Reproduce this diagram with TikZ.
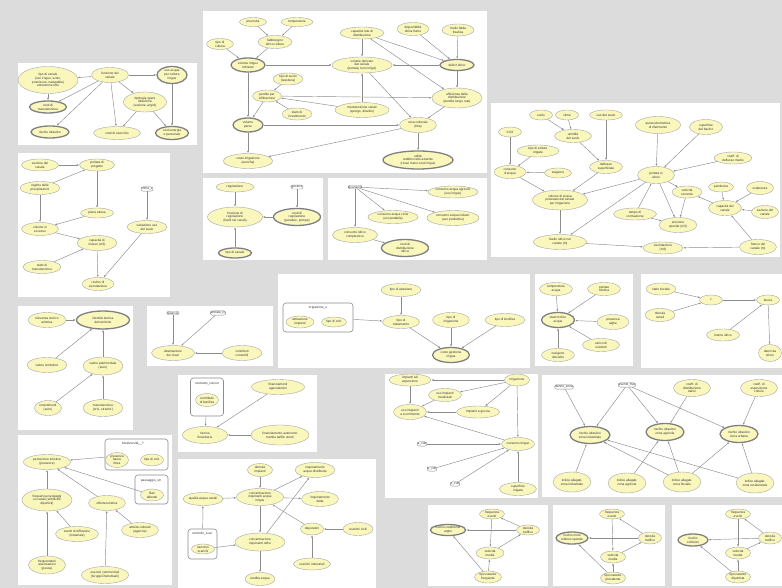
\documentclass[tikz,border=0pt]{standalone}
\usepackage{fontspec}
\setmainfont{Liberation Sans}
\usepackage{tikz}
\usetikzlibrary{shapes.geometric, arrows.meta}
\definecolor{bnyellow}{RGB}{250,247,188}
\definecolor{bggrey}{RGB}{220,220,220}
\tikzset{
  sz/.style 2 args={minimum width=#1pt, minimum height=#2pt},
  var/.style={ellipse, draw=black!35, line width=0.4pt, fill=bnyellow, inner sep=0pt, align=center, text=black!80},
  util/.style={var, draw=black!50, line width=1.3pt},
  dec/.style={rectangle, rounded corners=2pt, draw=black!45, line width=0.4pt, fill=white, inner sep=0.6pt, text=black!80},
  grp/.style={rectangle, rounded corners=3pt, draw=black!45, line width=0.6pt, fill=white},
  lbl/.style={inner sep=0pt, text=black!80},
  panel/.style={fill=white},
  edge/.style={-{Latex[length=2.4pt,width=1.8pt]}, draw=black!45, line width=0.45pt}
}

\begin{document}
\begin{tikzpicture}[x=1pt, y=-1pt, font=\fontsize{3.2}{3.8}\selectfont]
    % Draw background
    \fill[bggrey] (0,0) rectangle (782,588);
    \useasboundingbox (0,0) rectangle (782,588);

    % Draw panels
    \fill[panel] (18,63) rectangle (197,145);
    \fill[panel] (203,11) rectangle (487,173);
    \fill[panel] (18,153) rectangle (170,297);
    \fill[panel] (203,178) rectangle (323,260);
    \fill[panel] (328,178) rectangle (487,260);
    \fill[panel] (491,103) rectangle (780,257);
    \fill[panel] (18,306) rectangle (133,430);
    \fill[panel] (147,306) rectangle (273,366);
    \fill[panel] (278,274) rectangle (530,368);
    \fill[panel] (535,274) rectangle (633,366);
    \fill[panel] (641,274) rectangle (782,368);
    \fill[panel] (178,375) rectangle (317,452);
    \fill[panel] (385,374) rectangle (538,498);
    \fill[panel] (542,375) rectangle (782,497);
    \fill[panel] (18,435) rectangle (172,585);
    \fill[panel] (178,459) rectangle (376,588);
    \fill[panel] (428,505) rectangle (548,586);
    \fill[panel] (553,505) rectangle (665,586);
    \fill[panel] (672,505) rectangle (782,586);

    % canale
    \node[var, sz={60}{27}] (A1) at (48,80) {tipo di canale\\(uso irriguo, scolo,\\promiscuo, navigabile)\\estensione rete};
    \node[var, sz={37}{15}] (A2) at (110,75) {funzione del\\canale};
    \node[util, sz={30}{17}] (A3) at (172,75) {uso acqua\\per colture\\irrigue};
    \node[util, sz={37}{12}] (A4) at (48,107) {costi di\\manutenzione};
    \node[var, sz={43}{20}] (A5) at (145,102) {tipologia opere\\idrauliche\\(sezione, argini)};
    \node[util, sz={38}{12}] (A6) at (50,132) {rischio idraulico};
    \node[var, sz={47}{13}] (A7) at (117,133) {costi di esercizio};
    \node[util, sz={33}{13}] (A8) at (172,133) {costi energia\\e personale};
    \draw[edge] (A2) -- (A1);
    \draw[edge] (A2) -- (A3);
    \draw[edge] (A1) -- (A4);
    \draw[edge] (A2) -- (A4);
    \draw[edge] (A2) -- (A6);
    \draw[edge] (A2) -- (A7);
    \draw[edge] (A2) -- (A5);
    \draw[edge] (A5) -- (A7);
    \draw[edge] (A5) -- (A8);
    \draw[edge] (A3) -- (A8);

    % irrigazione
    \node[var, sz={27}{9}] (B1) at (253,22) {piovosità};
    \node[var, sz={32}{9}] (B2) at (297,22) {temperature};
    \node[var, sz={27}{11}] (B3) at (220,44) {tipo di\\coltura};
    \node[var, sz={34}{13}] (B4) at (275,42) {fabbisogno\\idrico colture};
    \node[util, sz={34}{14}] (B5) at (248,65) {volume irriguo\\richiesto};
    \node[var, sz={44}{12}] (B6) at (362,33) {capacità rete di\\distribuzione};
    \node[var, sz={32}{13}] (B7) at (413,29) {disponibilità\\idrica fiume};
    \node[var, sz={32}{12}] (B8) at (458,30) {livello falda\\freatica};
    \node[var, sz={60}{16}] (B9) at (362,65) {volume derivato\\dal canale\\(portata, turni irrigui)};
    \node[util, sz={34}{11}] (B10) at (457,65) {deficit idrico};
    \node[var, sz={30}{12}] (B11) at (288,79) {tipo di suolo\\(tessitura)};
    \node[var, sz={29}{12}] (B12) at (267,96) {perdite per\\infiltrazione};
    \node[var, sz={30}{12}] (B13) at (297,114) {stato di\\rivestimento};
    \node[var, sz={54}{15}] (B14) at (362,110) {manutenzione canali\\(spurgo, diserbo)};
    \node[var, sz={50}{20}] (B15) at (457,98) {efficienza della\\distribuzione\\(perdite lungo rete)};
    \node[util, sz={30}{14}] (B16) at (248,125) {volume\\perso};
    \node[var, sz={37}{15}] (B17) at (418,125) {resa colturale\\(t/ha)};
    \node[var, sz={49}{15}] (B18) at (248,161) {costo irrigazione\\(euro/ha)};
    \node[util, sz={70}{18}] (B19) at (418,160) {utilità\\reddito netto aziende\\(ricavi meno costi irrigui)};
    \draw[edge] (B1) -- (B4);
    \draw[edge] (B2) -- (B4);
    \draw[edge] (B3) -- (B5);
    \draw[edge] (B4) -- (B5);
    \draw[edge] (B5) -- (B9);
    \draw[edge] (B6) -- (B9);
    \draw[edge] (B6) -- (B10);
    \draw[edge] (B6) -- (B15);
    \draw[edge] (B7) -- (B10);
    \draw[edge] (B8) -- (B10);
    \draw[edge] (B10) -- (B9);
    \draw[edge] (B10) -- (B15);
    \draw[edge] (B11) -- (B12);
    \draw[edge] (B13) -- (B12);
    \draw[edge] (B14) -- (B12);
    \draw[edge] (B14) -- (B9);
    \draw[edge] (B12) -- (B15);
    \draw[edge] (B12) -- (B16);
    \draw[edge] (B5) -- (B16);
    \draw[edge] (B16) -- (B17);
    \draw[edge] (B9) -- (B17);
    \draw[edge] (B15) -- (B17);
    \draw[edge] (B17) -- (B18);
    \draw[edge] (B16) -- (B18);
    \draw[edge] (B17) -- (B19);

    % piena
    \node[var, sz={37}{12}] (C1) at (40,165) {sezione del\\canale};
    \node[var, sz={35}{12}] (C2) at (97,165) {portata di\\progetto};
    \node[var, sz={40}{13}] (C3) at (40,188) {regime delle\\precipitazioni};
    \node[dec] (C4) at (147,189) {clima\_c};
    \node[var, sz={33}{10}] (C5) at (97,213) {piena attesa};
    \node[var, sz={37}{13}] (C6) at (40,229) {volume in\\eccesso};
    \node[var, sz={40}{13}] (C7) at (147,227) {variazione uso\\del suolo};
    \node[var, sz={40}{15}] (C8) at (97,243) {capacità di\\invaso (m3)};
    \node[var, sz={38}{13}] (C9) at (42,267) {stato di\\manutenzione};
    \node[var, sz={32}{13}] (C10) at (98,284) {rischio di\\esondazione};
    \draw[edge] (C1) -- (C2);
    \draw[edge] (C3) -- (C2);
    \draw[edge] (C3) -- (C6);
    \draw[edge] (C2) -- (C5);
    \draw[edge] (C5) -- (C6);
    \draw[edge] (C6) -- (C8);
    \draw[edge] (C9) -- (C8);
    \draw[edge] (C8) -- (C10);
    \draw[edge] (C4) -- (C7);
    \draw[edge] (C7) -- (C10);

    % regolazione
    \node[var, sz={38}{10}] (D1) at (235,187) {regolazione};
    \node[dec] (D2) at (297,187) {gestore};
    \node[var, sz={55}{20}] (D3) at (235,217) {funzione di\\regolazione\\(livelli nei canali)};
    \node[util, sz={47}{17}] (D4) at (297,217) {costi di\\regolazione\\(paratoie, pompe)};
    \node[util, sz={33}{10}] (D5) at (235,253) {tipo di canale};
    \draw[edge] (D1) -- (D3);
    \draw[edge] (D2) -- (D4);
    \draw[edge] (D4) -- (D3);
    \draw[edge] (D5) -- (D3);

    % consumi
    \node[dec] (E1) at (355,187) {scenario};
    \node[var, sz={50}{12}] (E2) at (453,192) {consumo acqua agricolo\\(uso irriguo)};
    \node[var, sz={50}{13}] (E3) at (393,217) {consumo acqua civile\\(uso potabile)};
    \node[var, sz={52}{15}] (E4) at (453,218) {consumo acqua industr.\\(uso produttivo)};
    \node[var, sz={45}{15}] (E5) at (355,235) {consumo idrico\\complessivo};
    \node[util, sz={47}{17}] (E6) at (405,248) {costi di\\distribuzione\\idrica};
    \draw[edge] (E1) -- (E2);
    \draw[edge] (E1) -- (E3);
    \draw[edge] (E1) -- (E4);
    \draw[edge] (E1) -- (E5);
    \draw[edge] (E5) -- (E6);

    % portata
    \node[var, sz={23}{10}] (F1) at (541,115) {suolo};
    \node[var, sz={23}{10}] (F2) at (567,115) {clima};
    \node[var, sz={33}{10}] (F3) at (606,115) {uso del suolo};
    \node[var, sz={23}{10}] (F4) at (510,132) {CO2};
    \node[var, sz={37}{13}] (F5) at (573,136) {umidità\\del suolo};
    \node[var, sz={42}{12}] (F6) at (538,151) {tipo di colture\\irrigate};
    \node[var, sz={45}{17}] (F7) at (658,125) {quota idrometrica\\di riferimento};
    \node[var, sz={33}{15}] (F8) at (706,127) {superficie\\del bacino};
    \node[var, sz={32}{13}] (F9) at (510,172) {consumo\\d'acqua};
    \node[var, sz={27}{10}] (F10) at (558,173) {stagione};
    \node[var, sz={33}{13}] (F11) at (606,167) {deflusso\\superficiale};
    \node[var, sz={38}{12}] (F12) at (733,158) {coeff. di\\deflusso medio};
    \node[var, sz={37}{17}] (F13) at (656,175) {portata in\\alveo};
    \node[var, sz={55}{20}] (F14) at (560,200) {volume di acqua\\prelevato dal canale\\per irrigazione};
    \node[var, sz={30}{12}] (F15) at (687,192) {velocità\\corrente};
    \node[var, sz={25}{10}] (F16) at (721,187) {pendenza};
    \node[var, sz={27}{13}] (F17) at (760,188) {scabrezza};
    \node[var, sz={33}{15}] (F18) at (725,208) {capacità del\\canale};
    \node[var, sz={27}{13}] (F19) at (765,212) {sezione del\\canale};
    \node[var, sz={43}{12}] (F20) at (635,214) {tempo di\\corrivazione};
    \node[var, sz={38}{15}] (F21) at (678,225) {erosione\\sponde (m3)};
    \node[var, sz={53}{15}] (F22) at (560,242) {livello idrico nel\\canale (m)};
    \node[var, sz={40}{12}] (F23) at (663,248) {esondazione\\(m3)};
    \node[var, sz={37}{15}] (F24) at (758,247) {franco del\\canale (m)};
    \draw[edge] (F1) -- (F5);
    \draw[edge] (F2) -- (F5);
    \draw[edge] (F3) -- (F11);
    \draw[edge] (F5) -- (F11);
    \draw[edge] (F4) -- (F9);
    \draw[edge] (F6) -- (F9);
    \draw[edge] (F10) -- (F9);
    \draw[edge] (F9) -- (F14);
    \draw[edge] (F11) -- (F14);
    \draw[edge] (F7) -- (F13);
    \draw[edge] (F8) -- (F13);
    \draw[edge] (F12) -- (F13);
    \draw[edge] (F13) -- (F14);
    \draw[edge] (F13) -- (F15);
    \draw[edge] (F13) -- (F21);
    \draw[edge] (F13) -- (F22);
    \draw[edge] (F20) -- (F13);
    \draw[edge] (F20) -- (F21);
    \draw[edge] (F15) -- (F21);
    \draw[edge] (F16) -- (F18);
    \draw[edge] (F17) -- (F18);
    \draw[edge] (F19) -- (F18);
    \draw[edge] (F18) -- (F15);
    \draw[edge] (F14) -- (F22);
    \draw[edge] (F22) -- (F23);
    \draw[edge] (F24) -- (F23);
    \draw[edge] (F24) -- (F18);

    % patrimonio
    \node[var, sz={38}{15}] (G1) at (47,320) {rilevanza storico\\artistica};
    \node[util, sz={53}{18}] (G2) at (103,320) {identità storica\\del territorio};
    \node[var, sz={40}{15}] (G3) at (47,365) {valore simbolico};
    \node[var, sz={40}{18}] (G4) at (103,366) {valore patrimoniale\\(euro)};
    \node[var, sz={27}{15}] (G5) at (48,408) {investimenti\\(euro)};
    \node[var, sz={40}{17}] (G6) at (103,408) {manutenzione\\(ord., straord.)};
    \draw[edge] (G1) -- (G2);
    \draw[edge] (G3) -- (G2);
    \draw[edge] (G4) -- (G2);
    \draw[edge] (G5) -- (G4);
    \draw[edge] (G6) -- (G4);

    % ricavi
    \node[dec] (H1) at (173,313) {bilancio};
    \node[dec] (H2) at (218,313) {entrate\_in};
    \node[var, sz={43}{15}] (H3) at (173,353) {destinazione\\dei ricavi};
    \node[var, sz={40}{15}] (H4) at (242,353) {contributi\\consortili};
    \draw[edge] (H1) -- (H3);
    \draw[edge] (H2) -- (H3);
    \draw[edge] (H4) -- (H3);

    % trattamento
    \node[var, sz={40}{13}] (I0) at (401,290) {tipo di adesione};
    \node[grp, sz={70}{29}] (IG) at (318,317.5) {};
    \node[lbl] (IGt) at (318,308) {irrigazione\_s};
    \node[var, sz={28}{12}] (IG1) at (300,322) {attivazione\\impianti};
    \node[var, sz={25}{10}] (IG2) at (334,322) {tipo di colt.};
    \node[var, sz={37}{13}] (I1) at (401,322) {tipo di\\trattamento};
    \node[var, sz={37}{15}] (I2) at (451,320) {tipo di\\irrigazione};
    \node[var, sz={40}{13}] (I3) at (505,320) {tipo di bonifica};
    \node[util, sz={37}{15}] (I4) at (451,355) {costo gestione\\irrigua};
    \draw[edge] (I0) -- (I1);
    \draw[edge] (IG) -- (I1);
    \draw[edge] (I1) -- (I4);
    \draw[edge] (I2) -- (I4);
    \draw[edge] (I3) -- (I4);

    % qualita
    \node[var, sz={33}{13}] (J0a) at (556,289) {temperatura\\acqua};
    \node[var, sz={33}{13}] (J0b) at (604,289) {portata\\minima};
    \node[util, sz={33}{15}] (J1) at (558,320) {stato trofico\\acque};
    \node[var, sz={32}{15}] (J2) at (613,322) {presenza\\alghe};
    \node[var, sz={37}{13}] (J3) at (601,345) {carico di\\nutrienti};
    \node[var, sz={33}{13}] (J4) at (558,355) {ossigeno\\disciolto};
    \draw[edge] (J0a) -- (J1);
    \draw[edge] (J0b) -- (J1);
    \draw[edge] (J2) -- (J1);
    \draw[edge] (J3) -- (J1);
    \draw[edge] (J4) -- (J1);

    % fascia
    \node[var, sz={30}{12}] (K0) at (661,289) {stato iniziale};
    \node[var, sz={23}{10}] (K1) at (711,300) {c};
    \node[var, sz={23}{10}] (K2) at (768,300) {fascia};
    \node[var, sz={30}{13}] (K3) at (660,315) {densità\\canali};
    \node[var, sz={33}{12}] (K4) at (723,335) {tirante idrico};
    \node[var, sz={23}{17}] (K5) at (770,353) {danni da\\sfioro};
    \draw[edge] (K0) -- (K1);
    \draw[edge] (K3) -- (K1);
    \draw[edge] (K1) -- (K2);
    \draw[edge] (K4) -- (K2);
    \draw[edge] (K2) -- (K5);

    % finanziamento
    \node[grp, sz={33}{38}] (LG) at (207,397) {};
    \node[lbl] (LGt) at (207,384) {contratto\_consor};
    \node[var, sz={23}{13}] (LG1) at (207,400) {contributo\\di bonifica};
    \node[var, sz={53}{15}] (L1) at (278,387) {finanziamenti\\agevolazioni};
    \node[var, sz={45}{17}] (L2) at (205,435) {risorse\\finanziarie};
    \node[var, sz={58}{20}] (L3) at (280,435) {finanziamento autonomo\\tramite tariffe utenti};
    \draw[edge] (LG) -- (L2);
    \draw[edge] (L1) -- (L2);
    \draw[edge] (L3) -- (L2);

    % impianti
    \node[var, sz={42}{12}] (M1) at (410,380) {impianti ad\\aspersione};
    \node[var, sz={25}{12}] (M2) at (517,380) {irrigazione};
    \node[var, sz={33}{13}] (M3) at (445,395) {uso impianti\\localizzati};
    \node[var, sz={33}{15}] (M4) at (410,412) {uso impianti\\a scorrimento};
    \node[var, sz={43}{12}] (M5) at (478,412) {impianti a goccia};
    \node[dec] (R1) at (422,444) {a\_cult};
    \node[var, sz={33}{13}] (M6) at (518,444) {consumo irriguo};
    \node[dec] (R2) at (432,469) {b\_cult};
    \node[dec] (R3) at (455,484) {c\_cult};
    \node[var, sz={37}{13}] (M7) at (518,489) {superficie\\irrigata};
    \draw[edge] (M2) -- (M1);
    \draw[edge] (M2) -- (M3);
    \draw[edge] (M1) -- (M4);
    \draw[edge] (M3) -- (M4);
    \draw[edge] (M5) -- (M4);
    \draw[edge] (M2) -- (M5);
    \draw[edge] (M2) -- (M6);
    \draw[edge] (M6) -- (M4);
    \draw[edge] (R1) -- (M6);
    \draw[edge] (R2) -- (M6);
    \draw[edge] (R3) -- (M6);
    \draw[edge] (M7) -- (M6);

    % rischio
    \node[dec] (N1) at (564,387) {danno\_zona};
    \node[dec] (N2) at (627,385) {evento\_fluv};
    \node[var, sz={37}{17}] (N3) at (692,388) {coeff. di\\distribuzione\\danni};
    \node[var, sz={37}{17}] (N4) at (759,388) {coeff. di\\esposizione\\colture};
    \node[util, sz={40}{17}] (N5) at (590,435) {rischio idraulico\\zona industriale};
    \node[util, sz={38}{17}] (N6) at (665,432) {rischio idraulico\\zona agricola};
    \node[util, sz={38}{17}] (N7) at (739,434) {rischio idraulico\\zona urbana};
    \node[var, sz={38}{20}] (N8) at (572,482) {indice allagab.\\zona industriale};
    \node[var, sz={38}{20}] (N9) at (627,483) {indice allagab.\\zona agricola};
    \node[var, sz={38}{20}] (N10) at (682,482) {indice allagab.\\zona fluviale};
    \node[var, sz={38}{20}] (N11) at (755,483) {indice allagab.\\zona residenziale};
    \draw[edge] (N1) -- (N5);
    \draw[edge] (N2) -- (N5);
    \draw[edge] (N2) -- (N6);
    \draw[edge] (N2) -- (N7);
    \draw[edge] (N3) -- (N6);
    \draw[edge] (N4) -- (N7);
    \draw[edge] (N8) -- (N5);
    \draw[edge] (N9) -- (N6);
    \draw[edge] (N10) -- (N5);
    \draw[edge] (N10) -- (N6);
    \draw[edge] (N10) -- (N7);
    \draw[edge] (N11) -- (N5);
    \draw[edge] (N11) -- (N7);

    % turismo
    \node[var, sz={47}{15}] (O1) at (47,462) {percezione turistica\\(presenze)};
    \node[grp, sz={63}{31}] (OG1) at (136.5,454.5) {};
    \node[lbl] (OG1t) at (133,444) {biodiversità\_\_?};
    \node[var, sz={23}{15}] (OG1a) at (117,460) {presenza\\fauna\\ittica};
    \node[var, sz={23}{12}] (OG1b) at (152,460) {tipo di colt.};
    \node[grp, sz={33}{29}] (OG2) at (151.5,489.5) {};
    \node[lbl] (OG2t) at (151,481) {paesaggio\_str};
    \node[var, sz={23}{12}] (OG2a) at (152,495) {filari\\alberati};
    \node[var, sz={50}{22}] (O2) at (47,500) {frequenza navigaggi\\su canali (entità dei\\diportisti)};
    \node[var, sz={37}{15}] (O3) at (107,503) {offerta turistica};
    \node[var, sz={43}{15}] (O4) at (77,534) {eventi di diffusione\\(materiale)};
    \node[var, sz={37}{15}] (O5) at (140,530) {attività culturali\\(agenzie)};
    \node[var, sz={37}{18}] (O6) at (47,565) {frequentatori\\associazioni\\(pesca)};
    \node[var, sz={47}{17}] (O7) at (105,575) {esercizi commerciali\\(Gruppi Distrettuali)};
    \draw[edge] (OG1) -- (O1);
    \draw[edge] (OG2a) -- (O1);
    \draw[edge] (O2) -- (O1);
    \draw[edge] (O3) -- (O1);
    \draw[edge] (O6) -- (O2);
    \draw[edge] (O4) -- (O2);
    \draw[edge] (O7) -- (O3);
    \draw[edge] (O5) -- (O3);

    % inquinamento
    \node[var, sz={25}{13}] (P1) at (260,470) {densità\\impianti};
    \node[var, sz={40}{15}] (P2) at (315,470) {inquinamento\\acque distribuite};
    \node[var, sz={37}{13}] (P3) at (203,499) {qualità acqua canali};
    \node[var, sz={47}{17}] (P4) at (260,497) {concentrazione\\inquinanti acque\\irrigue};
    \node[var, sz={37}{15}] (P5) at (320,499) {inquinamento\\falda};
    \node[grp, sz={29}{30}] (PG) at (202.5,544) {};
    \node[lbl] (PGt) at (202,534) {controllo\_scar};
    \node[var, sz={23}{10}] (PG1) at (203,549) {sanzioni\\scarichi};
    \node[var, sz={50}{18}] (P6) at (260,542) {concentrazione\\inquinanti reflui};
    \node[var, sz={23}{12}] (P7) at (312,529) {depuratori};
    \node[var, sz={30}{13}] (P8) at (358,529) {scarichi civili};
    \node[var, sz={37}{12}] (P9) at (312,564) {scarichi industriali};
    \node[var, sz={30}{13}] (P10) at (260,579) {rendita acqua};
    \draw[edge] (PG) -- (P3);
    \draw[edge] (P3) -- (P4);
    \draw[edge] (P1) -- (P4);
    \draw[edge] (P4) -- (P2);
    \draw[edge] (P4) -- (P5);
    \draw[edge] (P4) -- (P6);
    \draw[edge] (P7) -- (P4);
    \draw[edge] (P8) -- (P7);
    \draw[edge] (P9) -- (P7);
    \draw[edge] (P6) -- (P2);
    \draw[edge] (PG1) -- (P6);
    \draw[edge] (P6) -- (P10);

    % navigazione
    \node[var, sz={25}{10}] (Q1) at (492,514) {frequenza\\eventi};
    \node[util, sz={33}{11}] (Q2) at (448,530) {rischio cedimento\\argini};
    \node[var, sz={23}{10}] (Q3) at (528,530) {densità\\traffico};
    \node[var, sz={28}{12}] (Q4) at (490,553) {velocità\\media};
    \node[var, sz={27}{12}] (Q5) at (488,577) {tipo natante\\frequente};
    \draw[edge] (Q3) -- (Q1);
    \draw[edge] (Q1) -- (Q4);
    \draw[edge] (Q3) -- (Q2);
    \draw[edge] (Q4) -- (Q3);
    \draw[edge] (Q5) -- (Q4);
    \draw[edge] (Q5) -- (Q2);

    \node[var, sz={25}{10}] (R1n) at (612,514) {frequenza\\eventi};
    \node[util, sz={32}{12}] (R2n) at (572,538) {rischio moto\\ondoso sponde};
    \node[var, sz={23}{12}] (R3n) at (650,538) {densità\\traffico};
    \node[var, sz={25}{12}] (R4n) at (613,557) {velocità\\media};
    \node[var, sz={25}{12}] (R5n) at (613,578) {tipo natante\\prevalente};
    \draw[edge] (R3n) -- (R1n);
    \draw[edge] (R1n) -- (R4n);
    \draw[edge] (R3n) -- (R2n);
    \draw[edge] (R4n) -- (R3n);
    \draw[edge] (R5n) -- (R4n);
    \draw[edge] (R5n) -- (R2n);

    \node[var, sz={25}{10}] (S1) at (738,514) {frequenza\\eventi};
    \node[util, sz={30}{12}] (S2) at (693,540) {rischio\\collisioni};
    \node[var, sz={23}{12}] (S3) at (770,538) {densità\\traffico};
    \node[var, sz={25}{12}] (S4) at (738,553) {velocità\\media};
    \node[var, sz={25}{12}] (S5) at (738,577) {tipo natante\\diportista};
    \draw[edge] (S3) -- (S1);
    \draw[edge] (S1) -- (S4);
    \draw[edge] (S3) -- (S2);
    \draw[edge] (S4) -- (S3);
    \draw[edge] (S5) -- (S4);
    \draw[edge] (S5) -- (S2);
\end{tikzpicture}
\end{document}
